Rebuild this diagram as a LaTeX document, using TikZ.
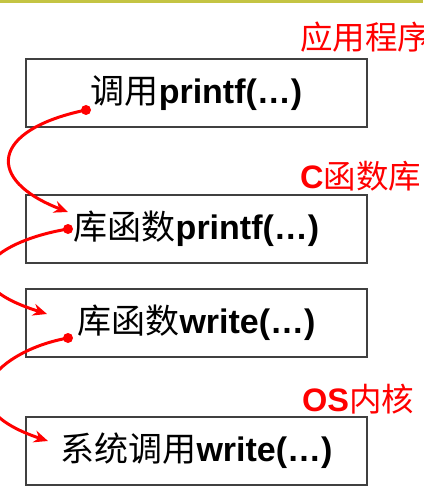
\documentclass[tikz,border=0pt]{standalone}
\usepackage{fontspec}
\setmainfont{Liberation Sans}
\newfontfamily\cjk{Noto Sans CJK SC}
\usetikzlibrary{arrows.meta}
\definecolor{barcol}{HTML}{C4C443}
\definecolor{boxline}{HTML}{404040}
\tikzset{
  layerbox/.style={draw=boxline, line width=1.5pt, minimum width=341pt, minimum height=68pt, inner sep=0pt, font=\fontsize{34}{34}\selectfont},
  layerlabel/.style={text=red, anchor=west, inner sep=0pt, font=\fontsize{32.5}{32}\selectfont},
  callarrow/.style={draw=red, line width=3pt, -{Stealth[length=14pt,width=12pt]}},
  calldot/.style={fill=red, circle, inner sep=0pt, minimum size=10pt}
}
\begin{document}
\begin{tikzpicture}[x=1pt,y=-1pt]
\useasboundingbox (0,0) rectangle (423,489);
\clip (0,0) rectangle (423,489);
\fill[barcol] (0,0) rectangle (423,3.5);
\node[layerlabel] (l1) at (300,37) {{\cjk 应用程序}};
\node[layerlabel] (l2) at (300,176) {\textbf{C}{\cjk 函数库}};
\node[layerlabel] (l3) at (302,399) {\textbf{OS}{\cjk 内核}};
\node[layerbox] (b1) at (196.5,93) {{\cjk 调用}\textbf{printf(…)}};
\node[layerbox] (b2) at (196.5,229) {{\cjk 库函数}\textbf{printf(…)}};
\node[layerbox] (b3) at (196.5,323) {{\cjk 库函数}\textbf{write(…)}};
\node[layerbox] (b4) at (196.5,451) {{\cjk 系统调用}\textbf{write(…)}};
\node[calldot] (d1) at (86,110) {};
\node[calldot] (d2) at (68,229) {};
\node[calldot] (d3) at (68,338) {};
\coordinate (a1) at (68,212);
\coordinate (a2) at (47,314);
\coordinate (a3) at (48,441);
\draw[callarrow] (d1.center) .. controls (-10,130) and (-15,180) .. (a1);
\draw[callarrow] (d2.center) .. controls (0,240) and (-60,280) .. (a2);
\draw[callarrow] (d3.center) .. controls (0,350) and (-60,405) .. (a3);
\end{tikzpicture}
\end{document}
